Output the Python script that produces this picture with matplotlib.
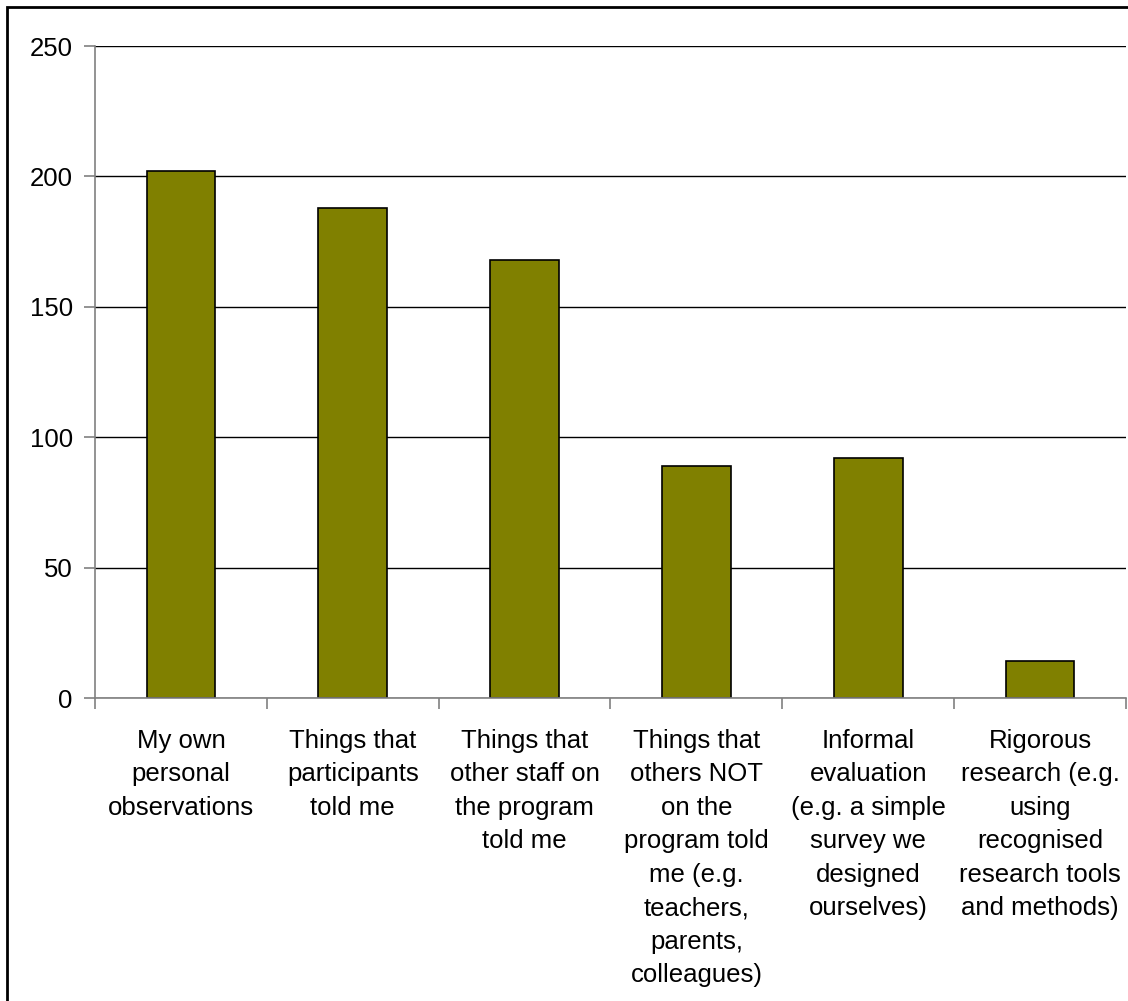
import matplotlib.pyplot as plt
from matplotlib.patches import Rectangle

plt.rcParams['font.family'] = ['Liberation Sans', 'DejaVu Sans']

# sources of evidence and number of responses
categories = [
    "My own\npersonal\nobservations",
    "Things that\nparticipants\ntold me",
    "Things that\nother staff on\nthe program\ntold me",
    "Things that\nothers NOT\non the\nprogram told\nme (e.g.\nteachers,\nparents,\ncolleagues)",
    "Informal\nevaluation\n(e.g. a simple\nsurvey we\ndesigned\nourselves)",
    "Rigorous\nresearch (e.g.\nusing\nrecognised\nresearch tools\nand methods)",
]
responses = [202, 188, 168, 89, 92, 14]
yticks = [0, 50, 100, 150, 200, 250]

fig = plt.figure(figsize=(11.28, 10.01), dpi=100)
ax = fig.add_axes([95 / 1128, 1 - 698 / 1001, 1031 / 1128, 652 / 1001])

x = list(range(len(categories)))
ax.bar(x, responses, width=0.4, color='#808000', edgecolor='black', linewidth=1.2, zorder=3)

ax.set_xlim(-0.5, len(categories) - 0.5)
ax.set_ylim(0, 250)
ax.set_yticks(yticks)
ax.yaxis.grid(True, color='black', linewidth=1, zorder=1)
ax.set_axisbelow(True)

# category ticks sit between the bars
ax.set_xticks([i - 0.5 for i in range(len(categories) + 1)])
ax.set_xticklabels([])
ax.set_xticks(x, minor=True)
ax.set_xticklabels(categories, minor=True, fontsize=18.5, linespacing=1.5,
                   va='top', ha='center')
ax.tick_params(axis='x', which='minor', length=0, pad=22)
ax.tick_params(axis='x', which='major', length=8, color='#808080', width=1.2)
ax.tick_params(axis='y', length=8, color='#808080', width=1.2, labelsize=18.5, pad=8)

for side in ['top', 'right']:
    ax.spines[side].set_visible(False)
for side in ['left', 'bottom']:
    ax.spines[side].set_color('#808080')
    ax.spines[side].set_linewidth(1.2)
ax.spines['bottom'].set_zorder(4)

# outer frame round the chart
fig.patches.append(Rectangle((7 / 1128, -0.01), 1.2, 1 - 7 / 1001 + 0.01,
                             transform=fig.transFigure, fill=False,
                             edgecolor='black', linewidth=2))

fig.savefig('out.png', dpi=100, facecolor='white')
